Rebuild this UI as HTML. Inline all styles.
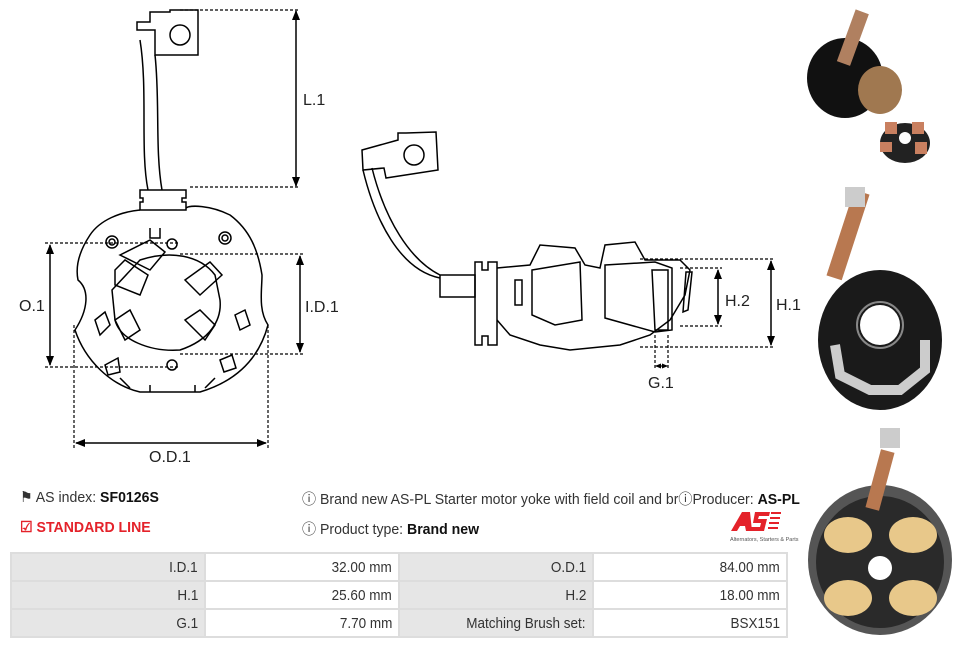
<!DOCTYPE html>
<html><head><meta charset="utf-8"><style>
body{margin:0;width:954px;height:648px;background:#fff;position:relative;overflow:hidden;font-family:"Liberation Sans",sans-serif;color:#333}
.t{position:absolute;font-size:15px;white-space:nowrap;transform:scaleX(0.94);transform-origin:0 0}
b{color:#111}
table{position:absolute;left:10px;top:552px;border-collapse:collapse;font-size:15px}
td{border:2px solid #ddd;height:24px;text-align:right;padding:0 6px;box-sizing:border-box}
td span{display:inline-block;transform:scaleX(0.9);transform-origin:100% 50%}
td.g{background:#e6e6e6;width:194px;height:28px}
td.w{background:#fff;width:194px;height:28px}
</style></head><body>
<svg width="954" height="648" style="position:absolute;left:0;top:0" fill="none" stroke="#000" stroke-width="1.5" font-family="Liberation Sans,sans-serif">
<defs><marker id="a" markerUnits="userSpaceOnUse" markerWidth="10" markerHeight="10" refX="9" refY="5" orient="auto"><path d="M0,1 L10,5 L0,9z" fill="#000" stroke="none"/></marker>
<marker id="s" markerUnits="userSpaceOnUse" markerWidth="6" markerHeight="6" refX="5" refY="3" orient="auto"><path d="M0,0.5 L6,3 L0,5.5z" fill="#000" stroke="none"/></marker></defs>
<!-- left drawing -->
<path d="M137,22 L150,22 L150,12 L170,12 L170,10 L198,10 L198,55 L155,55 L155,30 L137,30z"/>
<circle cx="180" cy="35" r="10"/>
<path d="M140,40 C148,90 140,150 148,190 M155,55 C160,100 155,150 162,190"/>
<path d="M140,190 L186,190 L186,198 L182,198 L182,202 L186,202 L186,210 L140,210 L140,202 L143,202 L143,198 L140,198z"/>
<path d="M140,210 C120,212 100,220 90,235 C80,250 75,265 78,280 C90,290 88,310 75,330 C85,360 110,385 140,392 L200,392 C240,380 260,355 268,325 C258,310 262,290 262,275 C258,250 250,230 230,215 C210,205 190,205 186,208"/>
<path d="M160,228 L160,238 L150,238 L150,228 M120,255 L150,240 L165,252 L150,270 Z"/>
<circle cx="112" cy="242" r="6"/><circle cx="112" cy="242" r="3"/>
<circle cx="225" cy="238" r="6"/><circle cx="225" cy="238" r="3"/>
<circle cx="172" cy="244" r="5"/><circle cx="172" cy="365" r="5"/>
<path d="M140,260 C170,250 200,255 215,275 L220,300 C222,320 210,340 180,350 C150,352 120,340 115,320 L112,290 Z"/>
<path d="M115,270 L125,260 L148,275 L140,295 L115,285z M185,280 L210,262 L222,275 L200,295z M185,320 L200,310 L215,325 L205,340z M115,320 L130,310 L140,330 L125,340z"/>
<path d="M95,320 L105,312 L110,325 L100,335z M235,315 L245,310 L250,325 L240,330z M105,365 L118,358 L120,372 L108,375z M220,360 L232,355 L236,368 L224,372z"/>
<path d="M120,378 L130,388 M215,378 L205,388 M150,385 L150,392 M195,385 L195,392"/>
<g stroke-dasharray="3,2" stroke-width="1.2">
<path d="M180,10 H300 M190,187 H300 M45,243 H180 M45,367 H180 M180,254 H305 M180,354 H305 M74,325 V448 M268,325 V448"/>
<path d="M640,259 H775 M640,347 H775 M680,268 H722 M680,326 H722 M655,335 V370 M668,335 V370"/>
</g>
<g marker-end="url(#a)" stroke-width="1.5">
<path d="M296,98 V11"/><path d="M296,98 V186"/>
<path d="M50,305 V245"/><path d="M50,305 V365"/>
<path d="M300,305 V256"/><path d="M300,305 V352"/>
<path d="M170,443 H76"/><path d="M170,443 H266"/>
<path d="M771,303 V261"/><path d="M771,303 V345"/>
<path d="M718,297 V270"/><path d="M718,297 V324"/>
</g>
<g marker-end="url(#s)" stroke-width="1.2">
<path d="M661.5,366 H656"/><path d="M661.5,366 H667"/>
</g>
<g fill="#222" stroke="none" font-size="16">
<text x="303" y="105">L.1</text><text x="19" y="311">O.1</text><text x="305" y="312">I.D.1</text>
<text x="149" y="462">O.D.1</text><text x="725" y="306">H.2</text><text x="776" y="310">H.1</text><text x="648" y="388">G.1</text>
</g>
<!-- middle drawing -->
<path d="M362,150 L398,140 L398,133 L406,133 L436,132 L438,170 L386,178 L384,168 L363,170z"/>
<circle cx="414" cy="155" r="10"/>
<path d="M363,170 C375,220 400,270 440,278 M372,168 C385,220 410,260 440,275 M440,275 L440,297 L475,297 L475,275z"/>
<path d="M475,262 L482,262 L482,270 L488,270 L488,262 L497,262 L497,345 L488,345 L488,336 L482,336 L482,345 L475,345z"/>
<path d="M497,268 L530,265 L540,245 L575,248 L585,265 L600,268 L605,245 L635,242 L645,260 L680,260 L690,270 L685,295 L670,320 L650,335 L620,345 L570,350 L540,345 L510,335 L497,320"/>
<path d="M532,270 L580,262 L582,320 L555,325 L532,315z M605,265 L655,262 L672,268 L672,330 L655,332 L605,318z M652,270 L668,270 L668,330 L655,330z"/>
<path d="M515,280 L522,280 L522,305 L515,305z M686,272 L692,272 L688,310 L683,312z"/>
<!-- logo -->
<g stroke="none">
<path d="M742,512 L750,512 L752,531 L746,531 L745,526 L740,526 L737,531 L731,531z" fill="#e4222a"/>
<path d="M755,512 L770,512 L769,516 L759,516 L758,519 L767,519 L764,531 L750,531 L751,527 L760,527 L761,523 L753,523z" fill="#e4222a"/>
<rect x="771" y="512" width="10" height="2" fill="#e4222a"/><rect x="770" y="517" width="10" height="2" fill="#e4222a"/><rect x="769" y="522" width="10" height="2" fill="#e4222a"/><rect x="768" y="527" width="10" height="2" fill="#e4222a"/>
<text x="730" y="541" font-size="5.5" fill="#555">Alternators, Starters &amp; Parts</text>
</g>
<!-- photos -->
<g stroke="none">
<ellipse cx="845" cy="78" rx="38" ry="40" fill="#111"/>
<rect x="845" y="10" width="14" height="55" fill="#b08060" transform="rotate(20 852 40)"/>
<ellipse cx="880" cy="90" rx="22" ry="24" fill="#a07850"/>
<ellipse cx="905" cy="143" rx="25" ry="20" fill="#222"/>
<rect x="885" y="122" width="12" height="12" fill="#c98060"/><rect x="912" y="122" width="12" height="12" fill="#c98060"/><rect x="880" y="142" width="12" height="10" fill="#c98060"/><rect x="915" y="142" width="12" height="12" fill="#c98060"/>
<circle cx="905" cy="138" r="6" fill="#fff"/>
<rect x="840" y="190" width="16" height="90" fill="#b87850" transform="rotate(18 848 235)"/>
<rect x="845" y="187" width="20" height="20" fill="#ccc"/>
<ellipse cx="880" cy="340" rx="62" ry="70" fill="#1a1a1a"/>
<circle cx="880" cy="325" r="20" fill="#fff"/><circle cx="880" cy="325" r="23" fill="none" stroke="#888" stroke-width="2"/>
<path d="M835,345 L840,375 L870,390 L900,390 L925,370 L925,340" stroke="#ccc" stroke-width="10" fill="none"/>
<ellipse cx="880" cy="560" rx="72" ry="75" fill="#555"/>
<ellipse cx="880" cy="562" rx="64" ry="66" fill="#2a2a2a"/>
<ellipse cx="848" cy="535" rx="24" ry="18" fill="#e8c88a"/><ellipse cx="913" cy="535" rx="24" ry="18" fill="#e8c88a"/>
<ellipse cx="848" cy="598" rx="24" ry="18" fill="#e8c88a"/><ellipse cx="913" cy="598" rx="24" ry="18" fill="#e8c88a"/>
<circle cx="880" cy="568" r="12" fill="#fff"/>
<rect x="873" y="450" width="14" height="60" fill="#b87850" transform="rotate(15 880 480)"/>
<rect x="880" y="428" width="20" height="20" fill="#ccc"/>
</g>
</svg>
<div class="t" style="left:20px;top:488px">&#9873; AS index: <b>SF0126S</b></div>
<div class="t" style="left:20px;top:518px;color:#e4222a;font-weight:bold">&#9745; STANDARD LINE</div>
<div class="t" style="left:302px;top:488px">&#9432; Brand new AS-PL Starter motor yoke with field coil and br&#9432;Producer: <b>AS-PL</b></div>
<div class="t" style="left:302px;top:518px">&#9432; Product type: <b>Brand new</b></div>
<table>
<tr><td class="g"><span>I.D.1</span></td><td class="w"><span>32.00 mm</span></td><td class="g"><span>O.D.1</span></td><td class="w"><span>84.00 mm</span></td></tr>
<tr><td class="g"><span>H.1</span></td><td class="w"><span>25.60 mm</span></td><td class="g"><span>H.2</span></td><td class="w"><span>18.00 mm</span></td></tr>
<tr><td class="g"><span>G.1</span></td><td class="w"><span>7.70 mm</span></td><td class="g"><span>Matching Brush set:</span></td><td class="w"><span>BSX151</span></td></tr>
</table>
</body></html>
